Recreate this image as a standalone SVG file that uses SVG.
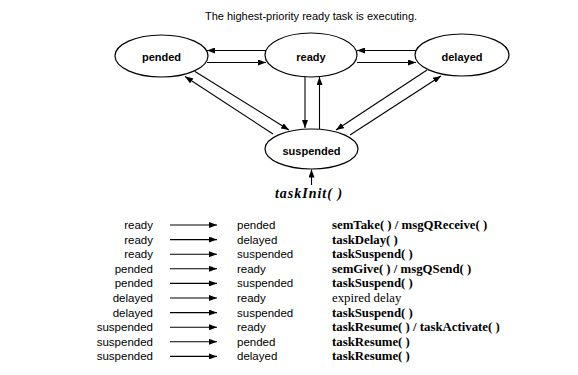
<svg xmlns="http://www.w3.org/2000/svg" width="578" height="375" viewBox="0 0 578 375">
<defs>
<marker id="ah" markerWidth="8" markerHeight="6" refX="8" refY="3" orient="auto" markerUnits="userSpaceOnUse">
<path d="M0,0 L8,3 L0,6 Z" fill="#000"/>
</marker>
<style>
.node ellipse{fill:#fff;stroke:#000;stroke-width:1.2}
.lbl{font-family:"Liberation Sans",Arial,sans-serif;font-size:11px;font-weight:bold;text-anchor:middle}
.sans{font-family:"Liberation Sans",Arial,sans-serif;font-size:11px}
.tbl{font-family:"Liberation Sans",Arial,sans-serif;font-size:11.5px}
.fn{font-family:"Liberation Serif","Times New Roman",serif;font-size:12.8px;font-weight:bold}
.plain{font-family:"Liberation Serif","Times New Roman",serif;font-size:12.8px}
.conn line{stroke:#000;stroke-width:1.1;marker-end:url(#ah)}
</style>
</defs>
<rect width="578" height="375" fill="#fff"/>
<text x="311" y="20" class="sans" text-anchor="middle">The highest-priority ready task is executing.</text>

<g id="pended" class="node"><ellipse cx="161.5" cy="56" rx="46.5" ry="21"/><text x="161.5" y="60.5" class="lbl">pended</text></g>
<g id="ready" class="node"><ellipse cx="311" cy="55" rx="46" ry="22"/><text x="311" y="60.5" class="lbl">ready</text></g>
<g id="delayed" class="node"><ellipse cx="462" cy="55" rx="47" ry="21"/><text x="462" y="60.5" class="lbl">delayed</text></g>
<g id="suspended" class="node"><ellipse cx="311.5" cy="149" rx="46.5" ry="20"/><text x="311.5" y="154.5" class="lbl">suspended</text></g>
<g id="taskInit"><text x="309" y="198" font-family="Liberation Serif,'Times New Roman',serif" font-size="14" font-weight="bold" font-style="italic" letter-spacing="1" text-anchor="middle">taskInit( )</text></g>

<g id="connectors" class="conn">
<line x1="266" y1="50.5" x2="207" y2="50.5"/>
<line x1="207" y1="62.5" x2="266" y2="62.5"/>
<line x1="416" y1="50.5" x2="357" y2="50.5"/>
<line x1="357" y1="62.5" x2="416" y2="62.5"/>
<line x1="305" y1="77" x2="305" y2="128"/>
<line x1="319.5" y1="129" x2="319.5" y2="77"/>
<line x1="195" y1="71.5" x2="289" y2="130"/>
<line x1="273" y1="134" x2="185" y2="76.5"/>
<line x1="427" y1="70" x2="336" y2="130"/>
<line x1="350" y1="135" x2="441" y2="76"/>
<line x1="311.5" y1="185" x2="311.5" y2="169.5"/>
</g>

<g id="table">
<g class="tbl" text-anchor="end">
<text x="153" y="229">ready</text>
<text x="153" y="243.6">ready</text>
<text x="153" y="258.2">ready</text>
<text x="153" y="272.8">pended</text>
<text x="153" y="287.4">pended</text>
<text x="153" y="302">delayed</text>
<text x="153" y="316.6">delayed</text>
<text x="153" y="331.2">suspended</text>
<text x="153" y="345.8">suspended</text>
<text x="153" y="360.4">suspended</text>
</g>
<g class="conn">
<line x1="170" y1="225" x2="217" y2="225"/>
<line x1="170" y1="239.6" x2="217" y2="239.6"/>
<line x1="170" y1="254.2" x2="217" y2="254.2"/>
<line x1="170" y1="268.8" x2="217" y2="268.8"/>
<line x1="170" y1="283.4" x2="217" y2="283.4"/>
<line x1="170" y1="298" x2="217" y2="298"/>
<line x1="170" y1="312.6" x2="217" y2="312.6"/>
<line x1="170" y1="327.2" x2="217" y2="327.2"/>
<line x1="170" y1="341.8" x2="217" y2="341.8"/>
<line x1="170" y1="356.4" x2="217" y2="356.4"/>
</g>
<g class="tbl">
<text x="237" y="229">pended</text>
<text x="237" y="243.6">delayed</text>
<text x="237" y="258.2">suspended</text>
<text x="237" y="272.8">ready</text>
<text x="237" y="287.4">suspended</text>
<text x="237" y="302">ready</text>
<text x="237" y="316.6">suspended</text>
<text x="237" y="331.2">ready</text>
<text x="237" y="345.8">pended</text>
<text x="237" y="360.4">delayed</text>
</g>
<g>
<text x="332" y="229" class="fn">semTake( ) / msgQReceive( )</text>
<text x="332" y="243.6" class="fn">taskDelay( )</text>
<text x="332" y="258.2" class="fn">taskSuspend( )</text>
<text x="332" y="272.8" class="fn">semGive( ) / msgQSend( )</text>
<text x="332" y="287.4" class="fn">taskSuspend( )</text>
<text x="332" y="302" class="plain">expired delay</text>
<text x="332" y="316.6" class="fn">taskSuspend( )</text>
<text x="332" y="331.2" class="fn">taskResume( ) / taskActivate( )</text>
<text x="332" y="345.8" class="fn">taskResume( )</text>
<text x="332" y="360.4" class="fn">taskResume( )</text>
</g>
</g>
</svg>
